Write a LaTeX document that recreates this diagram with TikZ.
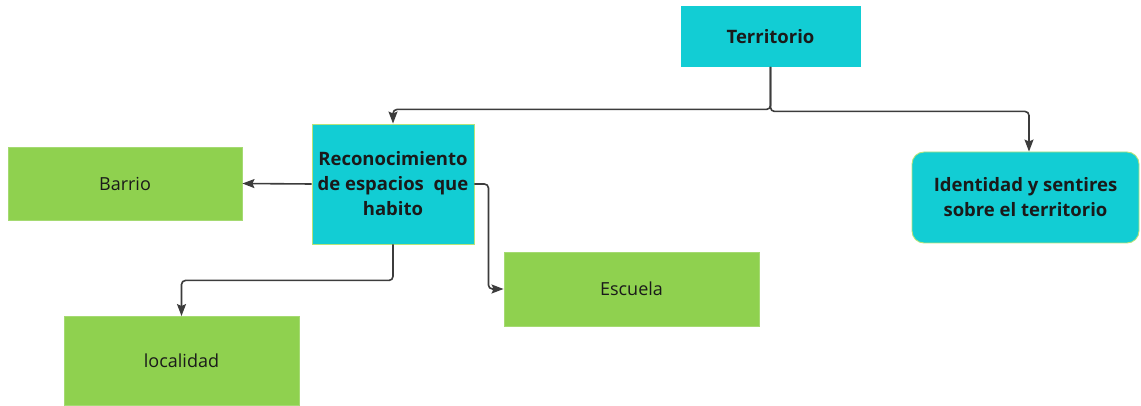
\documentclass[tikz,border=0pt]{standalone}
\usepackage{fontspec}
\setmainfont{Open Sans}
\usetikzlibrary{arrows.meta}
\definecolor{cyanbox}{HTML}{12CDD4}
\definecolor{greenbox}{HTML}{8FD14F}
\definecolor{edgegreen}{HTML}{B5E37A}
\definecolor{linegray}{HTML}{3C3C3C}
\definecolor{txt}{HTML}{1A1A1A}
\tikzset{
  cbox/.style={rectangle, fill=cyanbox, draw=edgegreen, line width=0.9pt, align=center, text=txt,
    font=\fontsize{18.5}{25}\selectfont\bfseries, inner sep=0pt},
  gbox/.style={rectangle, fill=greenbox, draw=greenbox!80!white, line width=0.9pt, align=center, text=txt,
    font=\fontsize{18}{25}\selectfont, inner sep=0pt},
  conn/.style={draw=linegray, line width=1.6pt, rounded corners=4pt,
    -{Stealth[length=12pt,width=9pt,inset=2pt]}},
}
\begin{document}
\begin{tikzpicture}[x=1pt,y=-1pt]
\useasboundingbox (0,0) rectangle (1141,406);
\node[cbox, draw=cyanbox, minimum width=179pt, minimum height=60pt] (terr) at (770.5,36.5) {Territorio};
\node[cbox, minimum width=162pt, minimum height=120pt] (rec) at (393,184) {Reconocimiento\\de espacios~ que\\habito};
\node[cbox, rounded corners=12pt, minimum width=227pt, minimum height=91pt] (ident) at (1025.5,197.5) {Identidad y sentires\\sobre el territorio};
\node[gbox, minimum width=234pt, minimum height=73pt] (barrio) at (125,183.5) {Barrio};
\node[gbox, minimum width=255pt, minimum height=74pt] (esc) at (631.5,289) {Escuela};
\node[gbox, minimum width=235pt, minimum height=89pt] (loc) at (181.5,361) {localidad};
\coordinate (identin) at ([xshift=3.5pt]ident.north);
\draw[conn] (terr.south) -- ++(0,42.5) -| (rec.north);
\draw[conn] (terr.south) -- ++(0,44.5) -| (identin);
\draw[conn] (rec.west) -- (barrio.east);
\draw[conn] (rec.east) -- ++(14,0) |- (esc.west);
\draw[conn] (rec.south) -- ++(0,36) -| (loc.north);
\end{tikzpicture}
\end{document}
